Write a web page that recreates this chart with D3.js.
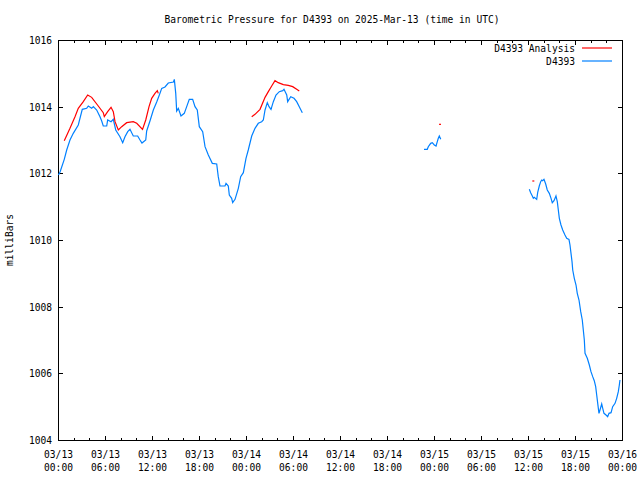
<!DOCTYPE html>
<html><head><meta charset="utf-8">
<script src="https://cdn.jsdelivr.net/npm/d3@7"></script>
<style>
body{margin:0;background:#fff;}
svg text{font-family:"DejaVu Sans Mono","Liberation Mono",monospace;font-size:9.6px;fill:#000;}
</style></head>
<body><svg id="c" width="640" height="480"></svg>
<script>
// hours since 2025-03-13 00:00 UTC; null = gap
const blueHours = [0.06,0.26,0.80,1.11,1.53,1.95,2.59,3.10,3.66,3.87,4.30,4.51,4.94,5.36,5.58,5.78,6.22,6.34,6.77,7.06,7.37,7.91,8.26,8.55,8.90,9.19,9.61,10.17,10.47,10.72,11.20,11.32,11.74,12.17,12.60,12.89,13.24,13.66,14.08,14.74,14.85,15.03,15.15,15.36,15.70,16.12,16.43,16.76,17.19,17.49,17.78,18.04,18.47,18.77,19.19,19.70,20.26,20.46,20.68,21.32,21.45,21.74,21.87,22.17,22.30,22.60,23.02,23.32,23.66,24.00,24.29,24.73,25.15,25.57,26.00,26.21,26.43,26.72,26.94,27.19,27.49,27.83,28.25,28.69,28.85,29.20,29.32,29.71,30.13,30.47,30.80,31.19,
 null,
 46.72,47.14,47.27,47.58,47.78,48.04,48.26,48.42,48.55,48.68,48.86,
 null,
 60.17,60.34,60.55,60.68,60.81,61.11,61.24,61.44,61.62,61.75,61.87,62.04,62.26,62.46,62.72,62.94,63.10,63.32,63.57,63.74,63.87,64.00,64.21,64.43,64.72,64.94,65.23,65.36,65.49,65.62,65.71,65.91,66.13,66.29,66.51,66.73,66.93,67.06,67.19,67.28,67.57,67.83,68.04,68.26,68.46,68.64,68.77,68.90,69.06,69.19,69.41,69.54,69.70,69.96,70.17,70.34,70.60,70.81,71.11,71.32,71.53,71.66,71.74];
const bluePressure = [1011.95,1012.04,1012.42,1012.70,1013.00,1013.20,1013.45,1013.92,1013.95,1014.02,1013.95,1014.00,1013.90,1013.70,1013.57,1013.42,1013.42,1013.60,1013.55,1013.62,1013.30,1013.10,1012.92,1013.10,1013.25,1013.32,1013.12,1013.12,1013.00,1012.91,1013.00,1013.27,1013.57,1013.90,1014.14,1014.32,1014.55,1014.59,1014.71,1014.74,1014.82,1014.40,1013.87,1013.95,1013.72,1013.80,1014.00,1014.22,1014.22,1014.00,1013.90,1013.40,1013.25,1012.80,1012.55,1012.30,1012.28,1011.90,1011.62,1011.62,1011.70,1011.62,1011.35,1011.25,1011.12,1011.22,1011.55,1011.90,1012.02,1012.45,1012.70,1013.12,1013.35,1013.50,1013.55,1013.60,1013.90,1014.12,1014.00,1013.92,1014.15,1014.35,1014.45,1014.48,1014.52,1014.35,1014.15,1014.30,1014.25,1014.15,1014.00,1013.82,
 null,
 1012.72,1012.72,1012.80,1012.90,1012.92,1012.85,1012.82,1012.95,1013.05,1013.12,1013.02,
 null,
 1011.52,1011.42,1011.32,1011.25,1011.28,1011.22,1011.43,1011.62,1011.75,1011.80,1011.78,1011.82,1011.68,1011.50,1011.40,1011.25,1011.12,1011.18,1011.32,1011.15,1010.90,1010.65,1010.45,1010.30,1010.15,1010.05,1010.02,1009.85,1009.60,1009.35,1009.10,1008.85,1008.65,1008.40,1008.20,1007.85,1007.60,1007.30,1007.00,1006.60,1006.45,1006.25,1006.05,1005.90,1005.78,1005.60,1005.35,1005.10,1004.80,1004.90,1005.08,1004.95,1004.80,1004.75,1004.70,1004.80,1004.82,1005.00,1005.10,1005.25,1005.45,1005.65,1005.80];

const redHours = [0.80,1.53,2.17,2.59,3.23,3.79,4.30,5.14,5.78,5.91,6.34,6.77,7.06,7.28,7.70,8.13,8.77,9.61,10.05,10.79,11.20,11.62,11.96,12.38,12.68,12.80,
 null,
 24.73,25.15,25.79,26.43,26.85,27.28,27.70,28.12,28.76,29.40,29.96,30.47,30.80];
const redPressure = [1012.98,1013.35,1013.70,1013.95,1014.15,1014.35,1014.28,1014.02,1013.82,1013.70,1013.85,1013.98,1013.85,1013.55,1013.30,1013.40,1013.52,1013.55,1013.50,1013.32,1013.60,1014.00,1014.25,1014.40,1014.48,1014.40,
 null,
 1013.70,1013.77,1013.92,1014.28,1014.45,1014.62,1014.78,1014.72,1014.66,1014.64,1014.60,1014.52,1014.47];
// isolated analysis values
const redPointHours = [48.77, 60.68];
const redPointPressure = [1013.47, 1011.77];

const yTicks = [1004,1006,1008,1010,1012,1014,1016];
const xTickHours = [0,6,12,18,24,30,36,42,48,54,60,66,72];
const titleText = "Barometric Pressure for D4393 on 2025-Mar-13 (time in UTC)";
const yLabel = "milliBars";
const seriesNames = ["D4393 Analysis","D4393"];
const seriesColors = ["#ff0000","#0080ff"];

const base = Date.UTC(2025,2,13,0,0);
const toDate = h => h==null ? null : new Date(base + h*3600000);

const L=58, R=622, T=40, B=440;
const svg = d3.select("#c");
const x = d3.scaleUtc().domain([toDate(0), toDate(72)]).range([L,R]);
const y = d3.scaleLinear().domain([1004,1016]).range([B,T]);

// title
svg.append("text").attr("x",332).attr("y",23).attr("text-anchor","middle").text(titleText);

// minor ticks every 2h (top & bottom)
const minorVals = d3.range(0,73,2).map(toDate);
const majorVals = xTickHours.map(toDate);
svg.append("g").attr("transform",`translate(0,${B})`)
  .call(d3.axisBottom(x).tickValues(minorVals).tickSizeInner(-2.5).tickSizeOuter(0).tickFormat(""))
  .call(g=>g.select(".domain").remove());
svg.append("g").attr("transform",`translate(0,${T})`)
  .call(d3.axisTop(x).tickValues(minorVals).tickSizeInner(-2.5).tickSizeOuter(0).tickFormat(""))
  .call(g=>g.select(".domain").remove());
svg.append("g").attr("transform",`translate(0,${T})`)
  .call(d3.axisTop(x).tickValues(majorVals).tickSizeInner(-4.5).tickSizeOuter(0).tickFormat(""))
  .call(g=>g.select(".domain").remove());

const fmtD = d3.utcFormat("%m/%d"), fmtT = d3.utcFormat("%H:%M");
const xb = svg.append("g").attr("transform",`translate(0,${B})`)
  .call(d3.axisBottom(x).tickValues(majorVals).tickSizeInner(-4.5).tickSizeOuter(0).tickPadding(0).tickFormat(""));
xb.select(".domain").remove();
xb.selectAll(".tick").each(function(d){
  const t = d3.select(this).append("text").attr("fill","#000").attr("text-anchor","middle").attr("y",18);
  t.append("tspan").attr("x",0).text(fmtD(d));
  t.append("tspan").attr("x",0).attr("dy",13).text(fmtT(d));
});

// y axes
const yl = svg.append("g").attr("transform",`translate(${L},0)`)
  .call(d3.axisLeft(y).tickValues(yTicks).tickSizeInner(-4.5).tickSizeOuter(0).tickPadding(6).tickFormat(d3.format("d")));
yl.select(".domain").remove();
yl.selectAll("text").attr("dy","0.35em").style("font-size","9.6px");
const yr = svg.append("g").attr("transform",`translate(${R},0)`)
  .call(d3.axisRight(y).tickValues(yTicks).tickSizeInner(-4.5).tickSizeOuter(0).tickFormat(""));
yr.select(".domain").remove();
svg.selectAll(".tick line").attr("stroke","#000").attr("shape-rendering","crispEdges");

// frame
svg.append("rect").attr("x",L).attr("y",T).attr("width",R-L).attr("height",B-T)
  .attr("fill","none").attr("stroke","#000").attr("stroke-width",1).attr("shape-rendering","crispEdges");

// y label
svg.append("text").attr("transform",`translate(13,${(T+B)/2}) rotate(-90)`).attr("text-anchor","middle").text(yLabel);

// series
const line = d3.line().defined(d=>d[1]!=null).x(d=>x(toDate(d[0]))).y(d=>y(d[1]));
const blueData = blueHours.map((h,i)=>[h,bluePressure[i]]);
const redData = redHours.map((h,i)=>[h,redPressure[i]]);
svg.append("path").attr("d",line(blueData)).attr("fill","none").attr("stroke",seriesColors[1]).attr("stroke-width",1.2);
svg.append("path").attr("d",line(redData)).attr("fill","none").attr("stroke",seriesColors[0]).attr("stroke-width",1.2);
svg.selectAll(".rp").data(redPointHours).enter().append("line")
  .attr("x1",(h)=>x(toDate(h))-1).attr("x2",(h)=>x(toDate(h))+1)
  .attr("y1",(h,i)=>y(redPointPressure[i])).attr("y2",(h,i)=>y(redPointPressure[i]))
  .attr("stroke",seriesColors[0]).attr("stroke-width",1.2);

// legend
seriesNames.forEach((n,i)=>{
  const yy = 52 + i*13;
  svg.append("text").attr("x",575).attr("y",yy).attr("text-anchor","end").text(n);
  svg.append("line").attr("x1",582).attr("x2",612).attr("y1",yy-4).attr("y2",yy-4)
    .attr("stroke",seriesColors[i]).attr("stroke-width",1.2);
});
</script></body></html>
